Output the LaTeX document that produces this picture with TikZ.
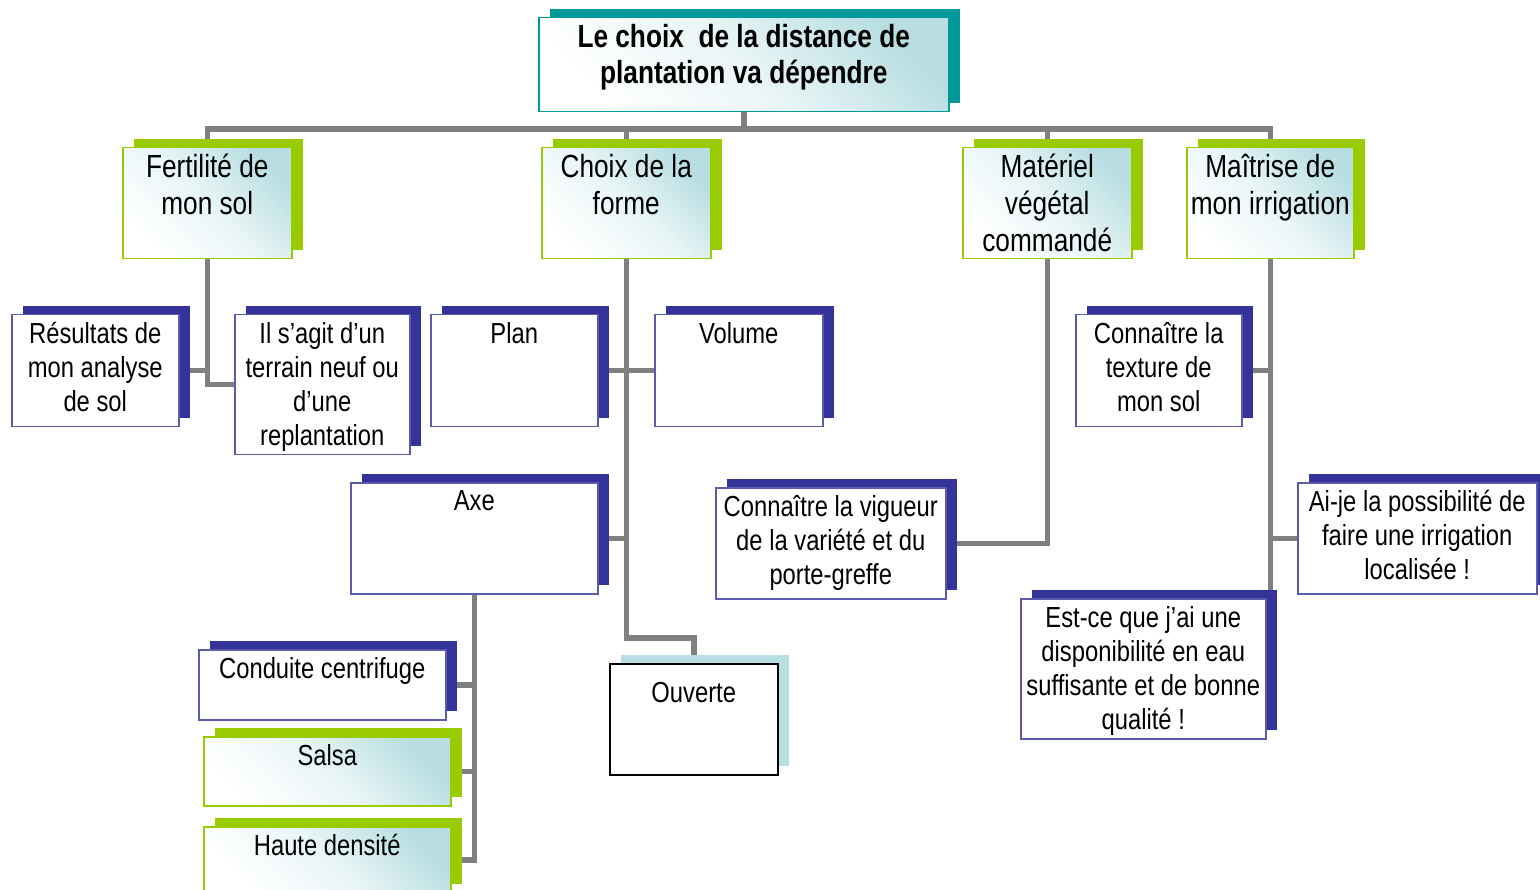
\documentclass[tikz,border=0pt]{standalone}
\usepackage{fontspec}
\setmainfont[FakeStretch=0.82]{Liberation Sans}
\usetikzlibrary{shadows}
\usetikzlibrary{backgrounds}
\definecolor{mteal}{RGB}{0,153,153}
\definecolor{mgreen}{RGB}{153,204,0}
\definecolor{mnavy}{RGB}{51,51,153}
\definecolor{mlight}{RGB}{184,222,226}
\definecolor{mgray}{RGB}{128,128,128}
\tikzset{
  boite/.style = {draw, line width=1.5pt, inner sep=0, anchor=north west},
  ombre/.style = {general shadow={fill=#1, shadow xshift=11pt, shadow yshift=9pt}},
  degrade/.style = {top color=mlight, bottom color=white, middle color=mlight!30!white, shading angle=-45},
  titreb/.style = {boite, draw=mteal, ombre=mteal, degrade},
  vertb/.style = {boite, draw=mgreen, ombre=mgreen, degrade},
  bleub/.style = {boite, draw=mnavy!80!white, fill=white, ombre=mnavy},
  noirb/.style = {boite, draw=black, fill=white, ombre=mlight},
  grand/.style = {anchor=north, align=center, inner sep=0, yshift=-7pt, font=\bfseries\fontsize{32}{36}\selectfont},
  tete/.style = {anchor=north, align=center, inner sep=0, yshift=-7pt, font=\fontsize{32}{37}\selectfont},
  sous/.style = {anchor=north, align=center, inner sep=0, yshift=-8pt, font=\fontsize{29}{34}\selectfont},
  lien/.style = {draw=mgray, line width=5.5pt},
}

\begin{document}
\begin{tikzpicture}[x=1pt, y=-1pt]
    \useasboundingbox (0,0) rectangle (1540,890);
    \clip (0,0) rectangle (1540,890);
    % titre
    \node [titreb, minimum width=410pt, minimum height=94pt,
      label={[grand]north:{Le choix\ \ de la distance de\\plantation va dépendre}}] (titre) at (538,17) {};
    % niveau 1
    \node [vertb, minimum width=169pt, minimum height=111pt,
      label={[tete]north:{Fertilité de\\mon sol}}] (fert) at (122,147) {};
    \node [vertb, minimum width=169pt, minimum height=111pt,
      label={[tete]north:{Choix de la\\forme}}] (forme) at (541,147) {};
    \node [vertb, minimum width=169pt, minimum height=111pt,
      label={[tete]north:{Matériel\\végétal\\commandé}}] (mat) at (962,147) {};
    \node [vertb, minimum width=167pt, minimum height=111pt,
      label={[tete]north:{Maîtrise de\\mon irrigation}}] (irrig) at (1186,147) {};
    % sol
    \node [bleub, minimum width=167pt, minimum height=112pt,
      label={[sous]north:{Résultats de\\mon analyse\\de sol}}] (res) at (11,314) {};
    \node [bleub, minimum width=175pt, minimum height=140pt,
      label={[sous]north:{Il s’agit d’un\\terrain neuf ou\\d’une\\replantation}}] (il) at (234,314) {};
    % forme
    \node [bleub, minimum width=167pt, minimum height=112pt,
      label={[sous]north:{Plan}}] (plan) at (430,314) {};
    \node [bleub, minimum width=168pt, minimum height=112pt,
      label={[sous]north:{Volume}}] (vol) at (654,314) {};
    \node [bleub, minimum width=247pt, minimum height=111pt,
      label={[sous]north:{Axe}}] (axe) at (350,482) {};
    \node [noirb, minimum width=168pt, minimum height=111pt,
      label={[sous, yshift=-11pt]north:{Ouverte}}] (ouv) at (609,663) {};
    % axe
    \node [bleub, minimum width=247pt, minimum height=70pt,
      label={[sous]north:{Conduite centrifuge}}] (cond) at (198,649) {};
    \node [vertb, minimum width=247pt, minimum height=69pt,
      label={[sous]north:{Salsa}}] (salsa) at (203,736) {};
    \node [vertb, minimum width=247pt, minimum height=66pt,
      label={[sous]north:{Haute densité}}] (haute) at (203,826) {};
    % materiel
    \node [bleub, minimum width=230pt, minimum height=111pt,
      label={[sous]north:{Connaître la vigueur\\de la variété et du\\porte-greffe}}] (vig) at (715,487) {};
    % irrigation
    \node [bleub, minimum width=166pt, minimum height=112pt,
      label={[sous]north:{Connaître la\\texture de\\mon sol}}] (tex) at (1075,314) {};
    \node [bleub, minimum width=239pt, minimum height=111pt,
      label={[sous]north:{Ai-je la possibilité de\\faire une irrigation\\localisée !}}] (aije) at (1297,482) {};
    \node [bleub, minimum width=245pt, minimum height=140pt,
      label={[sous]north:{Est-ce que j’ai une\\disponibilité en eau\\suffisante et de bonne\\qualité !}}] (estce) at (1020,598) {};

    \begin{scope}[on background layer]
      \coordinate (bus) at (0,129);
      \draw [lien] (titre.south) -- (titre.south |- bus);
      \draw [lien] (fert.north) -- (fert.north |- bus) -- (irrig.north |- bus) -- (irrig.north);
      \draw [lien] (forme.north) -- (forme.north |- bus);
      \draw [lien] (mat.north) -- (mat.north |- bus);
      % sol
      \draw [lien] (fert.south) |- (il.west);
      \draw [lien] (res.east) -- (res.east -| fert.south);
      % forme
      \draw [lien] (forme.south) |- ([yshift=25pt]ouv.north) -- (ouv.north);
      \draw [lien] (plan.east) -- (plan.east -| forme.south);
      \draw [lien] (vol.west) -- (vol.west -| forme.south);
      \draw [lien] (axe.east) -- (axe.east -| forme.south);
      \draw [lien] (axe.south) |- (haute.east);
      \draw [lien] (cond.east) -- (cond.east -| axe.south);
      \draw [lien] (salsa.east) -- (salsa.east -| axe.south);
      % materiel
      \draw [lien] (mat.south) |- (vig.east);
      % irrigation
      \draw [lien] (irrig.south) -- (irrig.south |- estce.north);
      \draw [lien] (tex.east) -- (tex.east -| irrig.south);
      \draw [lien] (aije.west) -- (aije.west -| irrig.south);
    \end{scope}
  \end{tikzpicture}
\end{document}
